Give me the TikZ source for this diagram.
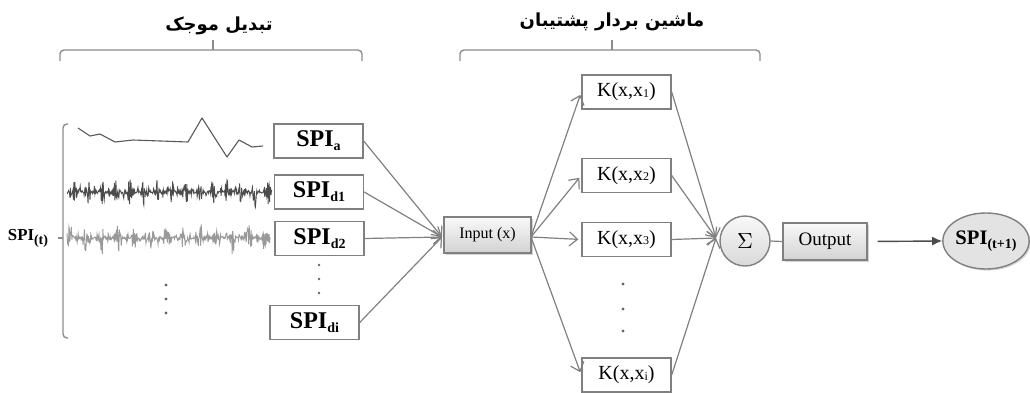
\documentclass[tikz,border=0pt]{standalone}
\usepackage{fontspec}
\setmainfont{Liberation Serif}
\newfontfamily\fa[Script=Arabic]{DejaVu Sans}
\TeXXeTstate=1
\usetikzlibrary{arrows.meta,shadows,shapes.geometric}
\tikzset{
  ln/.style={draw=black!50, line width=0.6pt},
  arr/.style={ln, -{Straight Barb[length=4pt,width=7pt]}},
  spibox/.style={draw=black!50, line width=0.7pt, fill=white, minimum width=44.5pt, minimum height=17pt, inner sep=0pt, font=\fontsize{12}{12}\selectfont\bfseries},
  kbox/.style={draw=black!50, line width=0.7pt, fill=white, minimum width=44.5pt, minimum height=17pt, inner sep=0pt, font=\fontsize{10}{10}\selectfont},
  gbox/.style={draw=black!50, line width=0.7pt, top color=gray!5, bottom color=gray!35, drop shadow={opacity=0.35, shadow xshift=0.8pt, shadow yshift=-0.8pt}, inner sep=0pt},
  brk/.style={draw=black!45, line width=0.7pt, rounded corners=2pt},
  dot/.style={fill=black!60, circle, inner sep=0pt, minimum size=1.6pt},
  fatitle/.style={font=\fa\bfseries\fontsize{9}{9}\selectfont}
}
\newcommand{\ksub}[1]{\raisebox{-0.3pt}{\fontsize{6}{6}\selectfont #1}}
\newcommand{\ssub}[1]{\raisebox{-2pt}{\fontsize{7}{7}\selectfont #1}}
\begin{document}
\begin{tikzpicture}[x=0.5pt, y=-0.5pt]
\useasboundingbox (0,0) rectangle (1030,392);

% titles and brackets
\node[fatitle] (t1) at (219,26) {\beginR تبدیل موجک\endR};
\node[fatitle] (t2) at (612,22) {\beginR ماشین بردار پشتیبان\endR};
\draw[brk] (60,61) -- (60,50) -- (362,50) -- (362,61);
\draw[brk] (213,50) -- (213,40);
\draw[brk] (460,61) -- (460,50) -- (760,50) -- (760,61);
\draw[brk] (612,50) -- (612,40);

% left vertical bracket
\draw[brk] (68,124) -- (63,124) -- (63,338) -- (68,338);
\draw[brk] (63,238) -- (58,238);
\node[font=\fontsize{8.4}{8.4}\selectfont\bfseries] (spit) at (28,238) {SPI\ssub{(t)}};

% signals
\draw[draw=black!65, line width=0.55pt, line join=round] (78,128) -- (90,136) -- (100,134) -- (115,142) -- (133,140) -- (188,142) -- (202,118) -- (227,157) -- (239,140) -- (252,147) -- (263,146);
\pgfmathsetseed{12}
\draw[draw=black!70, line width=0.45pt] plot[samples=420, domain=67:272, variable=\x] (\x, {192 + rand*(1.5 + 11*abs(sin(\x*13+20))^10 + 5*abs(sin(\x*37+10))^8)});
\pgfmathsetseed{27}
\draw[draw=black!40, line width=0.45pt] plot[samples=420, domain=67:270, variable=\x] (\x, {238 + rand*(1.5 + 13*abs(sin(\x*11+50))^10 + 5*abs(sin(\x*29))^8)});
\node[dot] (sd1) at (166,285) {};
\node[dot] (sd2) at (166,299) {};
\node[dot] (sd3) at (166,313) {};

% SPI boxes
\node[spibox] (spa) at (318.5,141) {SPI\ssub{a}};
\node[spibox] (spd1) at (319,192) {SPI\ssub{d1}};
\node[spibox] (spd2) at (319.5,238.5) {SPI\ssub{d2}};
\node[spibox] (spdi) at (314.5,322.5) {SPI\ssub{di}};
\node[dot, minimum size=1.3pt] (bd1) at (319,265) {};
\node[dot, minimum size=1.3pt] (bd2) at (319,279) {};
\node[dot, minimum size=1.3pt] (bd3) at (319,293) {};

% input
\node[gbox, minimum width=43.5pt, minimum height=18pt, font=\fontsize{8}{8}\selectfont] (in) at (487.5,235) {Input (x)};
\coordinate (inw) at (442,237);
\foreach \s in {spa,spd1,spd2,spdi} \draw[arr] (\s.east) -- (inw);

% kernel boxes
\node[kbox] (k1) at (626.5,92) {K(x,x\ksub{1})};
\node[kbox] (k2) at (626.5,175.5) {K(x,x\ksub{2})};
\node[kbox] (k3) at (626.5,239.5) {K(x,x\ksub{3})};
\node[kbox] (ki) at (626.5,375) {K(x,x\ksub{i})};
\node[dot] (kd1) at (623,284) {};
\node[dot] (kd2) at (623,309) {};
\node[dot] (kd3) at (623,331) {};
\coordinate (ine) at (531,237);
\foreach \k in {k1,k2,k3,ki} \draw[arr, shorten >=1.5pt] (ine) -- (\k.west);

% sum
\node[circle, draw=black!50, line width=0.7pt, top color=gray!5, bottom color=gray!30, minimum size=25pt, inner sep=0pt, font=\fontsize{11}{11}\selectfont] (sum) at (745,241) {$\Sigma$};
\coordinate (sw) at (716,238);
\foreach \k in {k1,k2,k3,ki} \draw[arr] (\k.east) -- (sw);

% output
\node[gbox, minimum width=42pt, minimum height=18.5pt, font=\fontsize{9.5}{9.5}\selectfont] (out) at (825,241.5) {Output};
\draw[ln] (sum.east) -- (out.west);
\node[ellipse, draw=black!50, line width=0.7pt, fill=gray!22, minimum width=43pt, minimum height=28pt, inner sep=0pt, drop shadow={opacity=0.3, shadow xshift=0.8pt, shadow yshift=-0.8pt}, font=\fontsize{10.3}{10.3}\selectfont\bfseries] (res) at (986,241) {SPI\ssub{(t+1)}};
\draw[draw=black!70, line width=0.7pt, -{Latex[length=5pt,width=4.5pt]}, shorten <=5pt] (out.east) -- (res.west);
\end{tikzpicture}
\end{document}
